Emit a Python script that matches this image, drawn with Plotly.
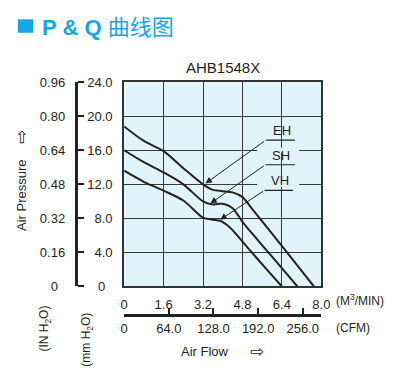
import plotly.graph_objects as go

# ---------------- data ----------------
flow_eh = [0, 0.8, 1.6, 2.4, 3.2, 3.6, 4.0, 4.4, 4.8, 5.2, 6.0, 6.8, 7.7]
pres_eh = [18.8, 17.1, 15.9, 13.9, 12.0, 11.35, 11.2, 11.05, 10.5, 9.1, 6.2, 3.3, 0]

flow_sh = [0, 0.8, 1.6, 2.4, 3.2, 3.55, 3.8, 4.05, 4.4, 4.8, 5.2, 6.0, 7.03]
pres_sh = [16.0, 14.6, 13.4, 12.0, 10.0, 9.65, 9.7, 9.7, 9.2, 7.6, 6.2, 3.5, 0]

flow_vh = [0, 0.8, 1.6, 2.4, 3.2, 3.6, 3.9, 4.3, 5.0, 5.8, 6.4]
pres_vh = [13.6, 12.3, 11.25, 10.1, 8.1, 7.85, 7.7, 6.9, 4.6, 1.95, 0]

series_names = ["EH", "SH", "VH"]
label_tail_x = [5.75, 5.73, 5.70]
label_tail_y = [17.2, 14.3, 11.3]
arrow_tip_x = [3.3, 3.5, 3.9]
arrow_tip_y = [12.1, 9.75, 7.85]
underline_end_x = [6.93, 6.93, 6.85]

flow_ticks_m3 = [0, 1.6, 3.2, 4.8, 6.4, 8.0]
flow_ticklabels_m3 = ["0", "1.6", "3.2", "4.8", "6.4", "8.0"]
flow_ticks_cfm = [0, 64, 128, 192, 256]
flow_ticklabels_cfm = ["0", "64.0", "128.0", "192.0", "256.0"]
pres_ticks_mm = [0, 4, 8, 12, 16, 20, 24]
pres_ticklabels_mm = ["0\u00a0\u00a0", "4.0", "8.0", "12.0", "16.0", "20.0", "24.0"]
pres_ticks_in = [0, 0.16, 0.32, 0.48, 0.64, 0.80, 0.96]
pres_ticklabels_in = ["0\u00a0\u00a0", "0.16", "0.32", "0.48", "0.64", "0.80", "0.96"]

title = "AHB1548X"

# ---------------- layout helpers ----------------
# the page body has an 8px margin, so the figure is sized and placed to fill the 398x377 window
OFF = 8
W, H = 398 - OFF, 377 - OFF
def px(x):
    return (x - OFF) / W
def py(y):
    return 1 - (y - OFF) / H

FONT = "Liberation Sans, Arial, Helvetica, sans-serif"
TXT = "#231f20"
BLUE = "#14a6e6"
BG = "#e1f3fb"
LINE = "#222222"

x_dom = [px(124), px(328)]
y_dom = [py(291), py(78)]

fig = go.Figure()

for fx, fy, nm in [(flow_eh, pres_eh, "EH"), (flow_sh, pres_sh, "SH"), (flow_vh, pres_vh, "VH")]:
    fig.add_trace(go.Scatter(x=fx, y=fy, mode="lines", name=nm,
                             line=dict(color=LINE, width=2, shape="spline", smoothing=0.9),
                             hoverinfo="skip", showlegend=False))

# empty traces so every axis exists
fig.add_trace(go.Scatter(x=[None], y=[None], xaxis="x2", yaxis="y", showlegend=False, hoverinfo="skip"))
for ya in ["y2", "y3", "y4"]:
    fig.add_trace(go.Scatter(x=[None], y=[None], xaxis="x", yaxis=ya, showlegend=False, hoverinfo="skip"))

fig.update_layout(
    width=W, height=H, autosize=False,
    margin=dict(l=0, r=0, t=0, b=0),
    paper_bgcolor="white", plot_bgcolor=BG,
    font=dict(family=FONT, size=13, color=TXT),
    xaxis=dict(domain=x_dom, range=[0, 8], tickvals=flow_ticks_m3, ticktext=flow_ticklabels_m3,
               showgrid=True, gridcolor="#3a3a3a", gridwidth=1.2, zeroline=False,
               showline=True, mirror=True, linecolor="#333333", linewidth=2,
               ticks="", ticklabelstandoff=5, tickfont=dict(size=13, color=TXT)),
    xaxis2=dict(overlaying="x", anchor="free", position=py(321), side="bottom",
                range=[0, 8 * 35.3147], tickvals=flow_ticks_cfm, ticktext=flow_ticklabels_cfm,
                showgrid=False, zeroline=False, showline=True, linecolor=LINE, linewidth=3,
                ticks="inside", ticklen=6, tickwidth=2, tickcolor=LINE,
                tickfont=dict(size=13, color=TXT)),
    yaxis=dict(domain=y_dom, range=[0, 24], dtick=4, tick0=0, showticklabels=False,
               showgrid=True, gridcolor="#3a3a3a", gridwidth=1.2, zeroline=False,
               showline=True, mirror=True, linecolor="#333333", linewidth=2, ticks=""),
    yaxis2=dict(overlaying="y", anchor="free", position=px(112), side="left",
                range=[0, 24], tickvals=pres_ticks_mm, ticktext=pres_ticklabels_mm,
                showgrid=False, zeroline=False, showline=False, ticks="",
                tickfont=dict(size=13, color=TXT)),
    yaxis3=dict(overlaying="y", anchor="free", position=px(63), side="left",
                range=[0, 0.96], tickvals=pres_ticks_in, ticktext=pres_ticklabels_in,
                showgrid=False, zeroline=False, showline=False, ticks="",
                tickfont=dict(size=13, color=TXT)),
    yaxis4=dict(overlaying="y", anchor="free", position=px(74), side="right",
                range=[0, 24], tickvals=pres_ticks_mm, showticklabels=False,
                showgrid=False, zeroline=False, showline=True, linecolor=LINE, linewidth=3,
                ticks="outside", ticklen=6, tickwidth=2, tickcolor=LINE),
)

shapes = []
# gaps in the grid behind the labels
for gy in [16, 12]:
    shapes.append(dict(type="rect", xref="x", yref="y", x0=5.4, x1=7.1, y0=gy - 0.3, y1=gy + 0.3,
                       fillcolor=BG, line=dict(width=0), layer="between"))
# header square
shapes.append(dict(type="rect", xref="paper", yref="paper", x0=px(14), x1=px(30),
                   y0=py(26.5), y1=py(12.5), fillcolor=BLUE, line=dict(width=0)))
# label underlines
for i in range(3):
    shapes.append(dict(type="line", xref="x", yref="y", x0=label_tail_x[i], x1=underline_end_x[i],
                       y0=label_tail_y[i], y1=label_tail_y[i], line=dict(color=LINE, width=1.2)))
fig.update_layout(shapes=shapes)

ann = []
for i, nm in enumerate(series_names):
    ann.append(dict(x=arrow_tip_x[i], y=arrow_tip_y[i], ax=label_tail_x[i], ay=label_tail_y[i],
                    xref="x", yref="y", axref="x", ayref="y", text="", showarrow=True,
                    arrowhead=2, arrowsize=1.3, arrowwidth=1, arrowcolor=LINE))
    ann.append(dict(x=(label_tail_x[i] + underline_end_x[i]) / 2 + 0.05, y=label_tail_y[i],
                    xref="x", yref="y", text=nm, showarrow=False, yanchor="bottom", yshift=0,
                    font=dict(size=13, color=TXT)))

def pa(text, x, y, size=13, xanchor="center", yanchor="middle", angle=0, color=TXT, family=FONT):
    ann.append(dict(text=text, x=px(x), y=py(y), xref="paper", yref="paper", showarrow=False,
                    xanchor=xanchor, yanchor=yanchor, textangle=angle,
                    font=dict(size=size, color=color, family=family)))

pa("<b>P &amp; Q</b> 曲线图", 37, 21, size=22, xanchor="left", color=BLUE,
   family="Liberation Sans, Arial, Noto Sans CJK SC")
pa(title, 226, 63, size=15)
pa("(M<sup>3</sup>/MIN)", 341, 305, size=12, xanchor="left")
pa("(CFM)", 341, 334, size=12, xanchor="left")
pa("Air Flow", 207.5, 359, size=13)
pa("⇨", 261.5, 358, size=17, family="DejaVu Sans")
pa("Air Pressure", 18, 196, size=13, angle=-90)
pa("⇨", 18, 135.5, size=17, angle=-90, family="DejaVu Sans")
pa("(IN H<sub>2</sub>O)", 42, 335, size=12, angle=-90)
pa("(mm H<sub>2</sub>O)", 86, 346, size=12, angle=-90)

fig.update_layout(annotations=ann)

fig.write_html("out.html", config={"displayModeBar": False})
